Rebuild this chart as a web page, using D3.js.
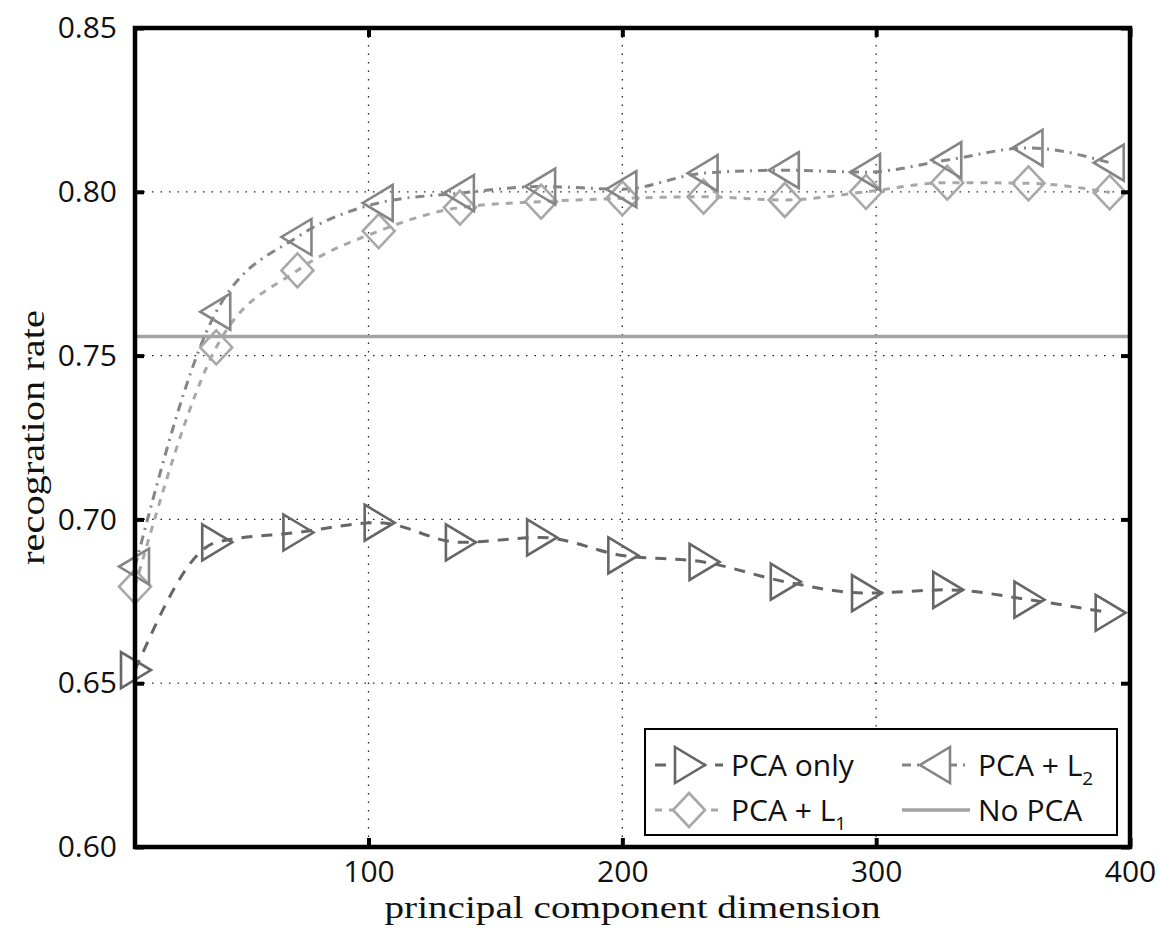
<!DOCTYPE html>
<html>
<head>
<meta charset="utf-8">
<script src="https://d3js.org/d3.v7.min.js"></script>
<style>
body { margin: 0; background: #fff; }
.tick text { font-family: "Open Sans", sans-serif; fill: #111; }
</style>
</head>
<body>
<div id="chart"></div>
<script>
// principal component dimension of each marker
const dims = [8, 40, 72, 104, 136, 168, 200, 232, 264, 296, 328, 360, 392];

// recognition rate per series
const pcaOnly = [0.654, 0.693, 0.696, 0.699, 0.693, 0.6945, 0.689, 0.687, 0.681, 0.6775, 0.6785, 0.6755, 0.6715];
const pcaL1 = [0.6795, 0.7525, 0.776, 0.788, 0.7952, 0.797, 0.798, 0.7985, 0.7975, 0.800, 0.8028, 0.8026, 0.7998];
const pcaL2 = [0.6856, 0.7634, 0.7862, 0.7966, 0.7996, 0.8016, 0.8008, 0.8057, 0.8066, 0.806, 0.8097, 0.8134, 0.8089];
const noPca = 0.7558;

// ticks
const xTicks = [100, 200, 300, 400];
const yTicks = [0.60, 0.65, 0.70, 0.75, 0.80, 0.85];

// plot box edges
var pLeft = 135, pRight = 1130, pTop = 28, pBottom = 847;

var svg = d3.select("#chart").append("svg")
    .attr("width", 1158)
    .attr("height", 933);

var x = d3.scaleLinear()
    .domain([8, 400])
    .range([pLeft, pRight]);

var y = d3.scaleLinear()
    .domain([0.60, 0.85])
    .range([pBottom, pTop]);

//dotted grid
svg.append("g")
    .selectAll("line")
    .data(xTicks.slice(0, 3))
    .enter()
    .append("line")
    .attr("x1", d => x(d)).attr("x2", d => x(d))
    .attr("y1", pTop).attr("y2", pBottom)
    .attr("stroke", "#222")
    .attr("stroke-width", 1.3)
    .attr("stroke-dasharray", "1.5,7");

svg.append("g")
    .selectAll("line")
    .data(yTicks.slice(1, 5))
    .enter()
    .append("line")
    .attr("x1", pLeft).attr("x2", pRight)
    .attr("y1", d => y(d)).attr("y2", d => y(d))
    .attr("stroke", "#222")
    .attr("stroke-width", 1.3)
    .attr("stroke-dasharray", "1.5,7");

//no PCA baseline
svg.append("line")
    .attr("x1", pLeft).attr("x2", pRight)
    .attr("y1", y(noPca)).attr("y2", y(noPca))
    .attr("stroke", "#a3a3a3")
    .attr("stroke-width", 3.5);

//series settings
var series = [
    { name: "PCA only", values: pcaOnly, color: "#666", dash: "11,9", marker: "right" },
    { name: "PCA + L1", values: pcaL1, color: "#a8a8a8", dash: "7,7", marker: "diamond" },
    { name: "PCA + L2", values: pcaL2, color: "#858585", dash: "9,6,2,6", marker: "left" }
];

//marker shapes
function markerPath(kind) {
    if (kind == "right") return "M-14,-18L16,0L-14,18Z";
    if (kind == "left") return "M14,-18L-16,0L14,18Z";
    return "M0,-17L16,0L0,17L-16,0Z";
}

var line = d3.line()
    .x((d, i) => x(dims[i]))
    .y(d => y(d))
    .curve(d3.curveMonotoneX);

series.forEach(function(s) {
    svg.append("path")
        .datum(s.values)
        .attr("d", line)
        .attr("fill", "none")
        .attr("stroke", s.color)
        .attr("stroke-width", 3)
        .attr("stroke-dasharray", s.dash);
});

series.forEach(function(s) {
    svg.append("g")
        .selectAll("path")
        .data(s.values)
        .enter()
        .append("path")
        .attr("transform", (d, i) => "translate(" + x(dims[i]) + "," + y(d) + ")")
        .attr("d", markerPath(s.marker))
        .attr("fill", "none")
        .attr("stroke", s.color)
        .attr("stroke-width", 2.6)
        .attr("stroke-linejoin", "miter");
});

//axes with inward ticks
function styleAxis(g) {
    g.select(".domain").remove();
    g.selectAll(".tick line").attr("stroke", "#000").attr("stroke-width", 4);
}

svg.append("g")
    .attr("transform", "translate(0," + pBottom + ")")
    .call(d3.axisBottom(x).tickValues(xTicks).tickSize(-9).tickPadding(14).tickFormat(d3.format("d")))
    .call(styleAxis)
    .selectAll("text").style("font-size", "30px");

svg.append("g")
    .attr("transform", "translate(" + pLeft + ",0)")
    .call(d3.axisLeft(y).tickValues(yTicks).tickSize(-9).tickPadding(18).tickFormat(d3.format(".2f")))
    .call(styleAxis)
    .selectAll("text").style("font-size", "30px");

svg.append("g")
    .attr("transform", "translate(0," + pTop + ")")
    .call(d3.axisTop(x).tickValues(xTicks).tickSize(-9).tickFormat(""))
    .call(styleAxis);

svg.append("g")
    .attr("transform", "translate(" + pRight + ",0)")
    .call(d3.axisRight(y).tickValues(yTicks).tickSize(-9).tickFormat(""))
    .call(styleAxis);

//frame
svg.append("rect")
    .attr("x", pLeft).attr("y", pTop)
    .attr("width", pRight - pLeft).attr("height", pBottom - pTop)
    .attr("fill", "none")
    .attr("stroke", "#000")
    .attr("stroke-width", 4.5);

//axis labels
svg.append("text")
    .attr("x", (pLeft + pRight) / 2)
    .attr("y", 918)
    .attr("text-anchor", "middle")
    .attr("textLength", 496)
    .attr("lengthAdjust", "spacingAndGlyphs")
    .style("font-family", "'Liberation Serif', 'DejaVu Serif', serif")
    .style("font-size", "32px")
    .style("fill", "#111")
    .text("principal component dimension");

svg.append("text")
    .attr("transform", "translate(44," + (pTop + pBottom) / 2 + ") rotate(-90)")
    .attr("text-anchor", "middle")
    .attr("textLength", 255)
    .attr("lengthAdjust", "spacingAndGlyphs")
    .style("font-family", "'Liberation Serif', 'DejaVu Serif', serif")
    .style("font-size", "33px")
    .style("fill", "#111")
    .text("recogration rate");

//legend
var legend = svg.append("g");

legend.append("rect")
    .attr("x", 645).attr("y", 729)
    .attr("width", 472).attr("height", 106)
    .attr("fill", "#fff")
    .attr("stroke", "#000")
    .attr("stroke-width", 2);

var legendItems = [
    { s: series[0], lx: 655, ly: 765, text: "PCA only", sub: "" },
    { s: series[1], lx: 655, ly: 810, text: "PCA + L", sub: "1" },
    { s: series[2], lx: 902, ly: 765, text: "PCA + L", sub: "2" },
    { s: null, lx: 902, ly: 810, text: "No PCA", sub: "" }
];

legendItems.forEach(function(it) {
    var color = it.s ? it.s.color : "#a3a3a3";
    legend.append("line")
        .attr("x1", it.lx).attr("x2", it.lx + 68)
        .attr("y1", it.ly).attr("y2", it.ly)
        .attr("stroke", color)
        .attr("stroke-width", it.s ? 3 : 3.5)
        .attr("stroke-dasharray", it.s ? it.s.dash : null);
    if (it.s) {
        legend.append("path")
            .attr("transform", "translate(" + (it.lx + 34) + "," + it.ly + ")")
            .attr("d", markerPath(it.s.marker))
            .attr("fill", "#fff")
            .attr("stroke", color)
            .attr("stroke-width", 2.6);
    }
    var t = legend.append("text")
        .attr("x", it.lx + 76)
        .attr("y", it.ly + 11)
        .style("font-family", "'Open Sans', sans-serif")
        .style("font-size", "30px")
        .style("fill", "#111")
        .text(it.text);
    if (it.sub) {
        t.append("tspan")
            .attr("dy", 9)
            .style("font-size", "19px")
            .text(it.sub);
    }
});
</script>
</body>
</html>
